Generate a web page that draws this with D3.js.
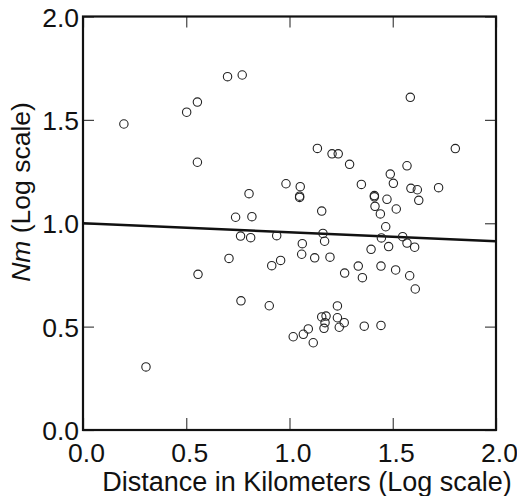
<!DOCTYPE html>
<html>
<head>
<meta charset="utf-8">
<script src="https://cdn.jsdelivr.net/npm/d3@7"></script>
<style>
  html, body { margin: 0; padding: 0; background: #fff; }
  svg { display: block; font-family: "Liberation Sans", Arial, Helvetica, sans-serif; }
</style>
</head>
<body>
<div id="chart"></div>
<script>
// Distance (log km) and Nm (log)
const distance = [
  0.198, 0.502, 0.554, 0.554, 0.700, 0.771, 0.804, 0.739, 0.818, 0.763,
  0.812, 1.585, 1.135, 1.206, 1.236, 1.803, 1.291, 1.569, 1.488, 1.503,
  0.983, 1.052, 1.049, 1.049, 1.348, 1.588, 1.619, 1.722, 1.626, 1.411,
  1.411, 1.472, 1.414, 1.517, 1.440, 1.156, 1.466, 0.938, 1.162, 1.170,
  1.062, 1.445, 1.548, 1.569, 1.606, 1.480, 1.395, 1.059, 1.122, 0.707,
  0.957, 1.196, 0.557, 0.914, 0.765, 0.902, 1.156, 1.177, 1.172, 1.167,
  1.091, 1.067, 1.018, 1.115, 1.333, 1.443, 1.514, 1.582, 1.609, 1.267,
  1.353, 1.232, 1.232, 1.265, 1.241, 1.362, 1.443, 0.305
];
const nm = [
  1.480, 1.537, 1.586, 1.295, 1.709, 1.717, 1.143, 1.029, 1.032, 0.938,
  0.930, 1.609, 1.362, 1.336, 1.336, 1.361, 1.285, 1.278, 1.238, 1.193,
  1.191, 1.177, 1.125, 1.131, 1.188, 1.169, 1.162, 1.172, 1.111, 1.128,
  1.134, 1.116, 1.082, 1.069, 1.045, 1.059, 0.983, 0.940, 0.951, 0.913,
  0.901, 0.929, 0.935, 0.904, 0.884, 0.887, 0.874, 0.850, 0.833, 0.830,
  0.820, 0.836, 0.753, 0.795, 0.625, 0.601, 0.547, 0.551, 0.519, 0.492,
  0.489, 0.463, 0.451, 0.422, 0.793, 0.793, 0.774, 0.746, 0.682, 0.759,
  0.737, 0.600, 0.543, 0.519, 0.497, 0.502, 0.506, 0.305
];
// fitted regression line endpoints
const fitX = [0, 2];
const fitY = [1.0, 0.913];
const tickValues = [0, 0.5, 1.0, 1.5, 2.0];

const width = 517, height = 496;
const margin = { top: 16.5, right: 21, bottom: 66, left: 83 };
const innerW = width - margin.left - margin.right;
const innerH = height - margin.top - margin.bottom;

const x = d3.scaleLinear().domain([0, 2]).range([0, innerW]);
const y = d3.scaleLinear().domain([0, 2]).range([innerH, 0]);
const fmt = d3.format('.1f');

const svg = d3.select('#chart').append('svg')
  .attr('width', width)
  .attr('height', height);

const g = svg.append('g')
  .attr('transform', `translate(${margin.left},${margin.top})`);

// Inward ticks on all four sides
const bottomAxis = g.append('g')
  .attr('transform', `translate(0,${innerH})`)
  .call(d3.axisBottom(x).tickValues(tickValues).tickFormat(fmt).tickSize(-12).tickPadding(13));
const leftAxis = g.append('g')
  .call(d3.axisLeft(y).tickValues(tickValues).tickFormat(fmt).tickSize(-11).tickPadding(4));
const topAxis = g.append('g')
  .call(d3.axisTop(x).tickValues(tickValues).tickFormat('').tickSize(-11));
const rightAxis = g.append('g')
  .attr('transform', `translate(${innerW},0)`)
  .call(d3.axisRight(y).tickValues(tickValues).tickFormat('').tickSize(-11));

[bottomAxis, leftAxis, topAxis, rightAxis].forEach(a => {
  a.select('.domain').remove();
  a.selectAll('.tick line').attr('stroke', '#444').attr('stroke-width', 1.2);
  a.selectAll('.tick text')
    .attr('fill', '#111')
    .style('font-size', '26.5px');
});
bottomAxis.selectAll('.tick text').attr('dx', 3);
leftAxis.selectAll('.tick text').attr('dy', '0.36em');

// Frame
g.append('rect')
  .attr('width', innerW)
  .attr('height', innerH)
  .attr('fill', 'none')
  .attr('stroke', '#111')
  .attr('stroke-width', 2.2);

// Regression line
g.append('line')
  .attr('x1', x(fitX[0])).attr('y1', y(fitY[0]))
  .attr('x2', x(fitX[1])).attr('y2', y(fitY[1]))
  .attr('stroke', '#111')
  .attr('stroke-width', 2.6);

// Points
g.selectAll('circle.pt')
  .data(d3.range(distance.length))
  .enter()
  .append('circle')
  .attr('class', 'pt')
  .attr('cx', i => x(distance[i]))
  .attr('cy', i => y(nm[i]))
  .attr('r', 4.2)
  .attr('fill', 'none')
  .attr('stroke', '#222')
  .attr('stroke-width', 1.1);

// Axis titles
svg.append('text')
  .attr('x', 307)
  .attr('y', 491)
  .attr('text-anchor', 'middle')
  .attr('fill', '#111')
  .style('font-size', '27px')
  .text('Distance in Kilometers (Log scale)');

const yTitle = svg.append('text')
  .attr('transform', 'translate(30,192) rotate(-90)')
  .attr('text-anchor', 'middle')
  .attr('fill', '#111')
  .style('font-size', '26.5px');
yTitle.append('tspan').style('font-style', 'italic').text('Nm');
yTitle.append('tspan').text(' (Log scale)');
</script>
</body>
</html>
